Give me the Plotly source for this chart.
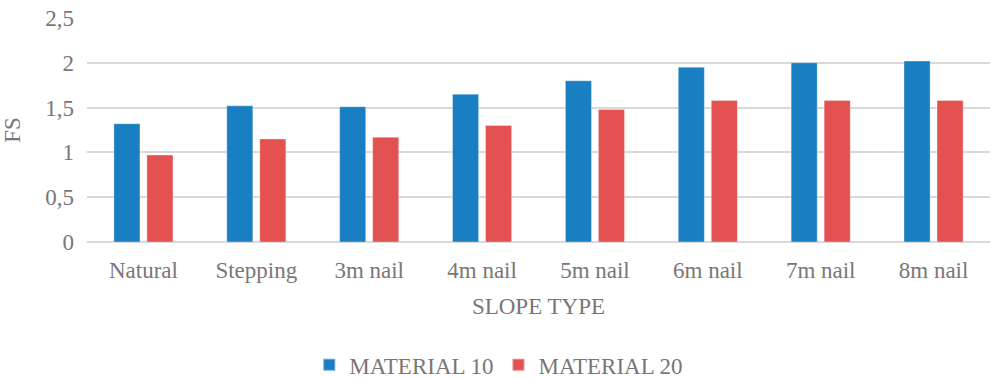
import plotly.graph_objects as go

categories = ["Natural", "Stepping", "3m nail", "4m nail", "5m nail", "6m nail", "7m nail", "8m nail"]
material_10 = [1.32, 1.52, 1.51, 1.65, 1.80, 1.95, 2.00, 2.02]
material_20 = [0.97, 1.15, 1.17, 1.30, 1.48, 1.58, 1.58, 1.58]

text_color = "#7A7676"
font_family = "Liberation Serif"

fig = go.Figure()
fig.add_trace(go.Bar(
    name="MATERIAL 10", x=categories, y=material_10,
    marker=dict(color="#1A7FC2", line=dict(color="rgba(255,255,255,0.35)", width=1)),
))
fig.add_trace(go.Bar(
    name="MATERIAL 20", x=categories, y=material_20,
    marker=dict(color="#E35150", line=dict(color="rgba(255,255,255,0.35)", width=1)),
))

fig.update_layout(
    width=992, height=378,
    margin=dict(l=87, r=2, t=18, b=136),
    paper_bgcolor="white", plot_bgcolor="white",
    barmode="group", bargap=0.415, bargroupgap=0.21,
    separators=", ",
    font=dict(family=font_family, color=text_color, size=23),
    showlegend=True,
    legend=dict(
        orientation="h", x=0.456, xanchor="center",
        yref="container", y=0.035, yanchor="middle",
        font=dict(size=23, color=text_color),
        itemsizing="constant", itemwidth=30, traceorder="normal",
    ),
    xaxis=dict(
        title=dict(text="SLOPE TYPE", font=dict(size=23), standoff=15),
        showgrid=False, showline=False, ticks="", ticklabelstandoff=12,
    ),
    yaxis=dict(
        title=dict(text="FS", font=dict(size=23), standoff=18),
        range=[0, 2.5], dtick=0.5, tick0=0,
        showgrid=True, gridcolor="#D9D9D9", gridwidth=1.5,
        zeroline=True, zerolinecolor="#D9D9D9", zerolinewidth=1.5,
        showline=False, ticks="", ticklabelstandoff=12,
    ),
)

fig.write_html("out.html")
